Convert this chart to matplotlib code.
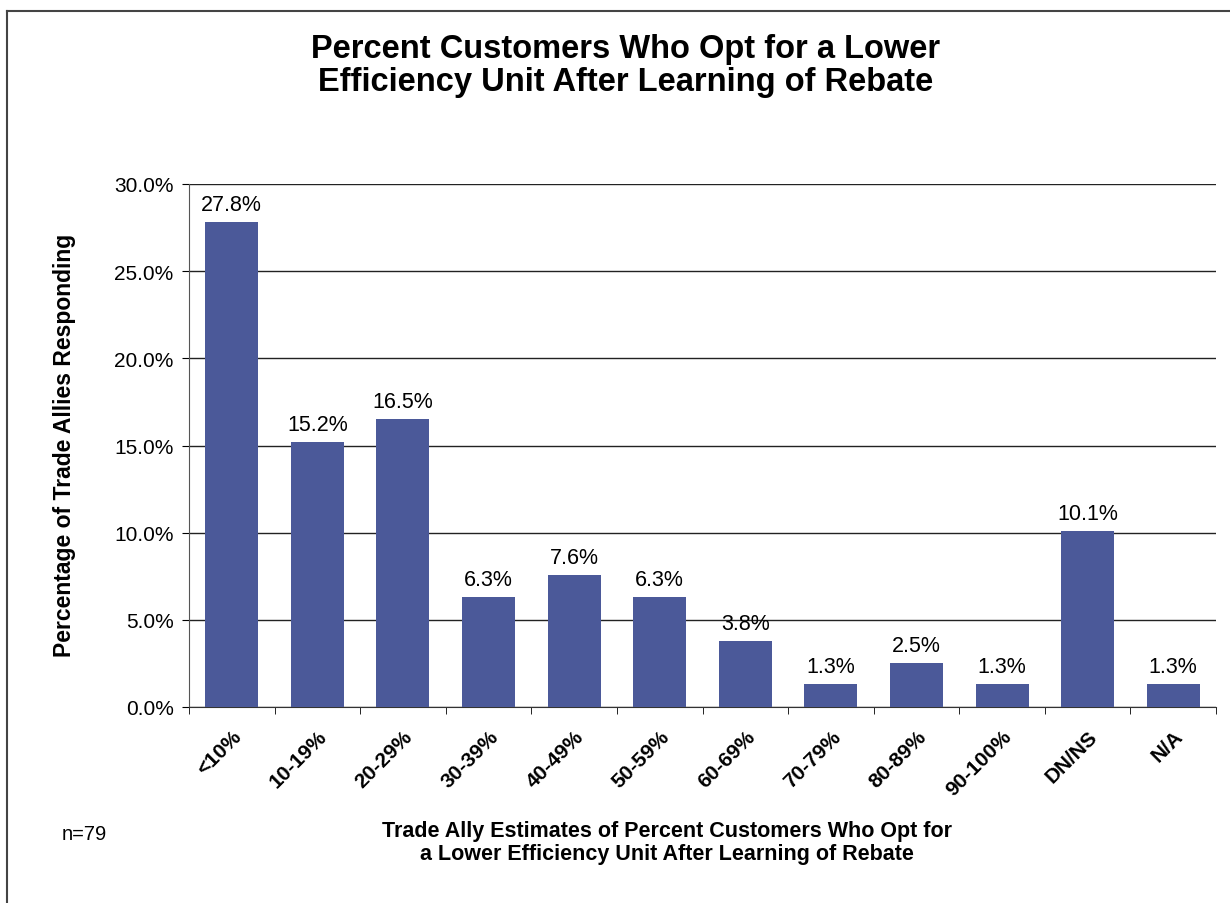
import matplotlib
matplotlib.use("Agg")
import matplotlib.pyplot as plt
from matplotlib.lines import Line2D
from matplotlib.ticker import FuncFormatter, MultipleLocator

categories = ["<10%", "10-19%", "20-29%", "30-39%", "40-49%", "50-59%",
              "60-69%", "70-79%", "80-89%", "90-100%", "DN/NS", "N/A"]
shares = [27.8, 15.2, 16.5, 6.3, 7.6, 6.3, 3.8, 1.3, 2.5, 1.3, 10.1, 1.3]

plt.rcParams["font.family"] = ["Liberation Sans", "DejaVu Sans"]

W, H = 1230, 904
fig = plt.figure(figsize=(W / 100, H / 100), dpi=100)
fig.patch.set_facecolor("white")
ax = fig.add_axes([189 / W, 1 - 708 / H, (1216 - 189) / W, (708 - 185) / H])

x = list(range(len(categories)))
ax.bar(x, shares, width=0.62, color="#4B5999", zorder=3)
for xi, v in zip(x, shares):
    ax.text(xi, v + 0.4, f"{v:.1f}%", ha="center", va="bottom", fontsize=15.5)

ax.set_ylim(0, 30)
ax.set_xlim(-0.5, len(categories) - 0.5)
ax.yaxis.set_major_locator(MultipleLocator(5))
ax.yaxis.set_major_formatter(FuncFormatter(lambda v, _: f"{v:.1f}%"))
ax.grid(axis="y", color="#222222", linewidth=1.0, zorder=0)
for s in ["top", "right"]:
    ax.spines[s].set_visible(False)
ax.spines["left"].set_color("#555555")
ax.spines["bottom"].set_color("#333333")
ax.tick_params(axis="y", labelsize=15, length=5, direction="out", pad=6)
ax.set_xticks(x)
ax.set_xticklabels(categories, rotation=45, ha="right", rotation_mode="anchor",
                   fontsize=15, fontweight="bold")
ax.set_xticks([i - 0.5 for i in range(len(categories) + 1)], minor=True)
ax.tick_params(axis="x", which="major", length=0, pad=14)
ax.tick_params(axis="x", which="minor", length=5, direction="out")

fig.text(65 / W, 1 - 445 / H, "Percentage of Trade Allies Responding",
         rotation=90, ha="center", va="center", fontsize=16.5, fontweight="bold")

fig.text(626 / W, 1 - 66 / H,
         "Percent Customers Who Opt for a Lower\nEfficiency Unit After Learning of Rebate",
         ha="center", va="center", fontsize=23.5, fontweight="bold", linespacing=1.1)
fig.text(667 / W, 1 - 843 / H,
         "Trade Ally Estimates of Percent Customers Who Opt for\na Lower Efficiency Unit After Learning of Rebate",
         ha="center", va="center", fontsize=15.5, fontweight="bold", linespacing=1.15)
fig.text(62 / W, 1 - 835 / H, "n=79", ha="left", va="center", fontsize=14.5)

# frame around the chart area (top and left edges fall inside the canvas)
fig.add_artist(Line2D([7 / W, 7 / W], [0, 1 - 12 / H], transform=fig.transFigure,
                      color="#444444", linewidth=1.5))
fig.add_artist(Line2D([7 / W, 1], [1 - 12 / H, 1 - 12 / H], transform=fig.transFigure,
                      color="#444444", linewidth=1.5))

fig.savefig("out.png", dpi=100)
